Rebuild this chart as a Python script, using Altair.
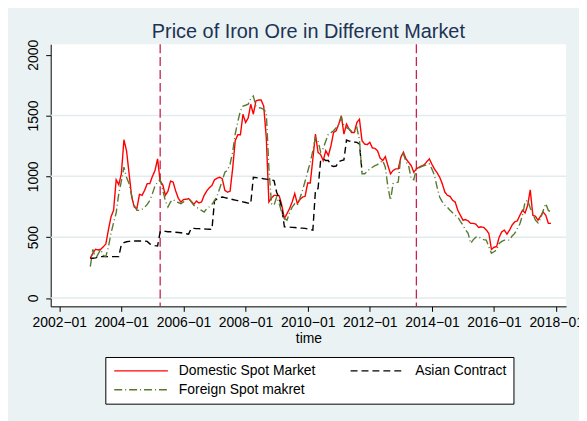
import altair as alt
import pandas as pd

# ---------------- data (monthly) ----------------
START = "2003-01"

domestic = [
    327, 370, 400, 395, 400, 420, 444, 560, 667, 721, 972, 931,          # 2003
    1021, 1301, 1211, 1021, 830, 748, 735, 852, 844, 885, 940, 940,      # 2004
    1000, 1048, 1144, 960, 931, 844, 877, 961, 953, 880, 820, 789,       # 2005
    809, 812, 817, 795, 770, 797, 781, 790, 844, 880, 907, 925,          # 2006
    972, 985, 993, 980, 885, 870, 877, 1062, 1293, 1342, 1342, 1511,     # 2007
    1443, 1479, 1593, 1511, 1620, 1628, 1628, 1579, 1320, 789, 822, 844, # 2008
    844, 840, 762, 654, 694, 735, 789, 858, 776, 809, 830, 836,          # 2009
    945, 945, 1144, 1348, 1198, 1179, 1130, 1211, 1171, 1252, 1361, 1375,  # 2010
    1430, 1498, 1348, 1430, 1389, 1361, 1361, 1443, 1470, 1293, 1266, 1261,  # 2011
    1280, 1234, 1230, 1210, 1150, 1130, 1162, 1089, 1021, 1048, 1062, 1062,  # 2012
    1157, 1198, 1144, 1116, 1089, 1034, 1062, 1075, 1085, 1095, 1120, 1144,  # 2013
    1100, 1060, 1030, 993, 940, 871, 844, 835, 803, 789, 721, 680,       # 2014
    640, 645, 634, 613, 613, 607, 580, 585, 580, 560, 531, 400,          # 2015
    417, 422, 500, 544, 558, 525, 558, 600, 626, 634, 680, 721,          # 2016
    699, 762, 890, 680, 672, 640, 672, 707, 680, 613, 613,               # 2017
]

asian = [
    327, 327, 330, 335, 340, 340, 340, 340, 340, 340, 340, 340,          # 2003
    440, 455, 462, 465, 468, 468, 468, 468, 468, 468, 465, 445,          # 2004
    435, 430, 427, 544, 550, 548, 545, 544, 542, 540, 538, 536,          # 2005
    532, 528, 525, 572, 572, 570, 570, 568, 567, 566, 565, 564,          # 2006
    800, 815, 825, 830, 825, 820, 815, 810, 805, 800, 795, 790,          # 2007
    785, 780, 776, 993, 990, 987, 984, 980, 977, 973, 970, 966,          # 2008
    870, 820, 740, 585, 585, 583, 581, 579, 577, 575, 574, 572,          # 2009
    568, 563, 558, 885, 900, 1130, 1144, 1130, 1130, 1089, 1081, 1085,   # 2010
    1120, 1130, 1136, 1299, 1290, 1288, 1283, 1280, 1266, 1040,          # 2011
]

foreign = [
    258, 400, 320, 360, 400, 350, 340, 420, 531, 620, 700, 858,          # 2003
    960, 1075, 993, 940, 840, 762, 721, 720, 730, 745, 770, 803,         # 2004
    858, 920, 953, 975, 885, 800, 748, 790, 809, 795, 785, 776,          # 2005
    790, 805, 817, 790, 762, 745, 735, 720, 707, 735, 750, 770,          # 2006
    800, 840, 900, 966, 1034, 1050, 1100, 1198, 1348, 1450, 1538, 1579,  # 2007
    1585, 1593, 1640, 1661, 1579, 1565, 1561, 1550, 1525, 1075, 776, 762,  # 2008
    830, 776, 700, 654, 640, 700, 748, 776, 762, 820, 885, 960,          # 2009
    1040, 1116, 1211, 1320, 1293, 1200, 1230, 1290, 1348, 1360, 1375, 1400,  # 2010
    1430, 1484, 1416, 1400, 1389, 1370, 1361, 1402, 1300, 1021, 1021, 1040,  # 2011
    1062, 1075, 1089, 1097, 1115, 1130, 1075, 912, 803, 940, 945, 953,   # 2012
    1171, 1185, 1120, 1089, 980, 972, 1062, 1070, 1080, 1089, 1095, 1103,  # 2013
    1060, 1007, 912, 830, 790, 762, 745, 721, 700, 680, 667, 630,        # 2014
    599, 560, 531, 449, 480, 500, 503, 490, 480, 476, 422, 368,          # 2015
    380, 395, 449, 465, 476, 476, 476, 510, 531, 570, 610, 680,          # 2016
    789, 803, 740, 694, 640, 618, 654, 720, 776, 720, 707,               # 2017
]

series_names = ["Domestic Spot Market", "Asian Contract", "Foreign Spot makret"]
series_colors = ["#ff0000", "#000000", "#587a30"]
series_dashes = [[1, 0], [7, 4], [8, 3, 1, 3]]

event_months = ["2005-04", "2013-07"]
y_ticks = [0, 500, 1000, 1500, 2000]
grid_values = [0, 500, 1000, 1500]
x_tick_months = ["2002-01", "2004-01", "2006-01", "2008-01", "2010-01",
                 "2012-01", "2014-01", "2016-01", "2018-01"]
x_tick_labels = ["2002\u221201", "2004\u221201", "2006\u221201", "2008\u221201",
                 "2010\u221201", "2012\u221201", "2014\u221201", "2016\u221201",
                 "2018\u221201"]

title_text = "Price of Iron Ore in Different Market"
FONT = "Liberation Sans"


def month_index(label):
    p = pd.Period(label, freq="M")
    return (p.year - 2002) * 12 + (p.month - 1)


rows = []
for name, vals in zip(series_names, [domestic, asian, foreign]):
    periods = pd.period_range(START, periods=len(vals), freq="M")
    for p, v in zip(periods, vals):
        rows.append({"series": name, "date": str(p),
                     "m": month_index(str(p)), "value": v})
df = pd.DataFrame(rows)

events = pd.DataFrame({"date": event_months,
                       "m": [month_index(d) for d in event_months]})
grid = pd.DataFrame({"value": grid_values})

tick_pos = [month_index(t) for t in x_tick_months]
label_array = "[" + ",".join("'" + s + "'" for s in x_tick_labels) + "]"

# ---------------- scales / axes ----------------
x_scale = alt.Scale(domain=[-3.3, 195.85], nice=False, zero=False)
y_scale = alt.Scale(domain=[-69, 2087], nice=False, zero=False)

x_axis = alt.Axis(values=tick_pos,
                  labelExpr=label_array + "[round(datum.value / 24)]",
                  grid=False, tickSize=5, tickColor="#000", domainColor="#000",
                  labelFont=FONT, labelFontSize=14, labelColor="#000",
                  labelPadding=4, labelFlush=False, labelOverlap=False,
                  titleFont=FONT, titleFontSize=14, titleColor="#000",
                  titleFontWeight="normal", titlePadding=2)
y_axis = alt.Axis(values=y_ticks, format="d", grid=False, tickSize=5,
                  tickColor="#000", domainColor="#000", labelFont=FONT,
                  labelFontSize=14, labelColor="#000", labelAngle=270,
                  labelAlign="center", labelBaseline="bottom", labelPadding=5,
                  title=None)

X = alt.X("m:Q", scale=x_scale, axis=x_axis, title="time")
Y = alt.Y("value:Q", scale=y_scale, axis=y_axis, title=None)

# legend symbol: a 54px horizontal stroke (path scaled by sqrt(size)/2 = 5)
legend = alt.Legend(orient="none", legendX=55, legendY=315, columns=2,
                    direction="horizontal", title=None,
                    symbolType="M-1,0L9.8,0", symbolSize=100,
                    symbolStrokeWidth=1.4, symbolFillColor="transparent",
                    labelFont=FONT, labelFontSize=14, labelColor="#000",
                    labelLimit=400, labelOffset=53,
                    fillColor="white", strokeColor="#000", padding=7,
                    columnPadding=32, rowPadding=5)

color = alt.Color("series:N", legend=legend,
                  scale=alt.Scale(domain=series_names, range=series_colors))
dash = alt.StrokeDash("series:N", legend=legend,
                      scale=alt.Scale(domain=series_names, range=series_dashes))

base = alt.Chart(df)

grid_layer = alt.Chart(grid).mark_rule(color="#e2ebee", strokeWidth=1.5).encode(y=Y)
event_layer = alt.Chart(events).mark_rule(
    color="#c8234f", strokeWidth=1.3, strokeDash=[9, 4]).encode(x=X)

line_layers = [
    base.transform_filter(alt.datum.series == name)
    .mark_line(strokeWidth=1.4)
    .encode(x=X, y=Y, color=color, strokeDash=dash)
    for name in series_names
]

chart = alt.layer(grid_layer, event_layer, *line_layers).properties(
    width=519, height=264,
    title=alt.Title(title_text, font=FONT, fontSize=20, fontWeight="normal",
                    color="#1d3354", anchor="middle", offset=-3),
    autosize=alt.AutoSizeParams(type="none"),
    padding={"left": 43, "top": 35, "right": 13, "bottom": 114},
    background="#eaf2f3",
).configure_view(fill="white", stroke=None)

chart.save("out.html", embed_options={"renderer": "svg", "actions": False})
